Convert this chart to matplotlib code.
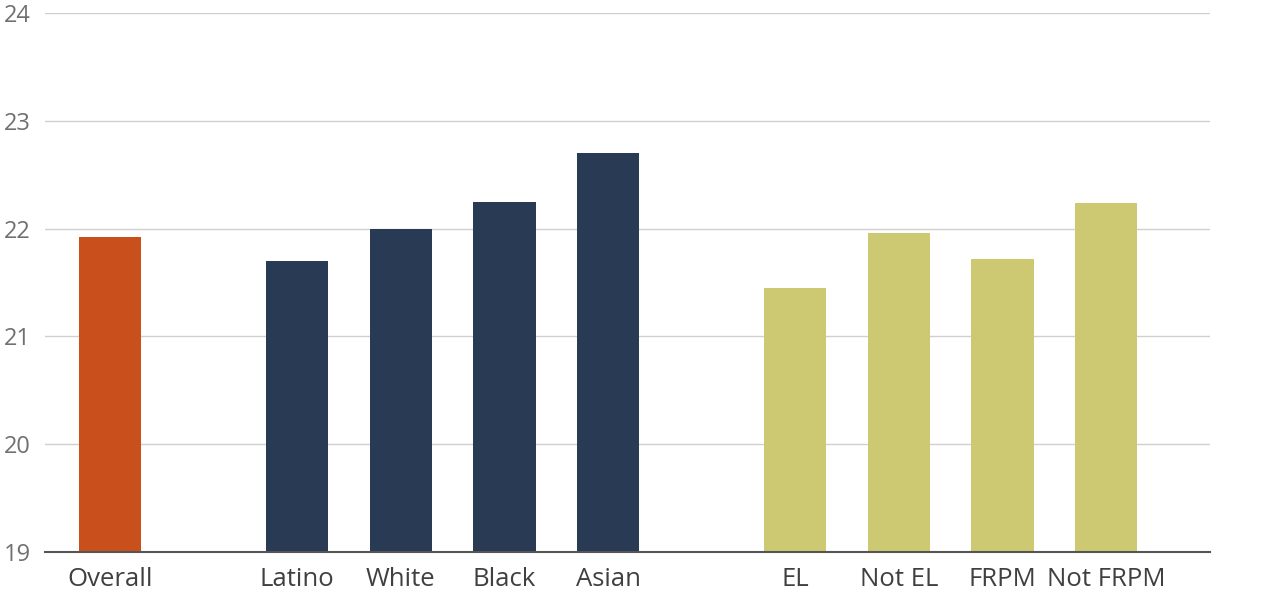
import matplotlib.pyplot as plt

plt.rcParams['font.family'] = ['Open Sans', 'DejaVu Sans']

labels = ['Overall', 'Latino', 'White', 'Black', 'Asian', 'EL', 'Not EL', 'FRPM', 'Not FRPM']
values = [21.92, 21.70, 22.00, 22.25, 22.70, 21.45, 21.96, 21.72, 22.24]
positions = [0, 1.8, 2.8, 3.8, 4.8, 6.6, 7.6, 8.6, 9.6]
colors = ['#C9501C'] + ['#283A54'] * 4 + ['#CDC973'] * 4

fig = plt.figure(figsize=(12.8, 5.96), dpi=100)
ax = fig.add_axes([45 / 1280, 1 - 552 / 596, (1210 - 45) / 1280, (552 - 13) / 596])

ax.bar(positions, [v - 19 for v in values], bottom=19, width=0.6, color=colors, zorder=3)

ax.set_ylim(19, 24)
ax.set_xlim(-0.63, 10.6)
ax.set_yticks([19, 20, 21, 22, 23, 24])
ax.grid(axis='y', color='#D0D0D0', linewidth=1, zorder=0)
ax.set_xticks(positions)
ax.set_xticklabels(labels, fontsize=18.5, color='#404040')
ax.tick_params(axis='y', labelsize=17, labelcolor='#707070', length=0, pad=10)
ax.tick_params(axis='x', length=0, pad=10.5)

for s in ['top', 'right', 'left']:
    ax.spines[s].set_visible(False)
ax.spines['bottom'].set_color('#555555')
ax.spines['bottom'].set_linewidth(1.5)
ax.spines['bottom'].set_zorder(4)

fig.savefig('out.png', dpi=100)
